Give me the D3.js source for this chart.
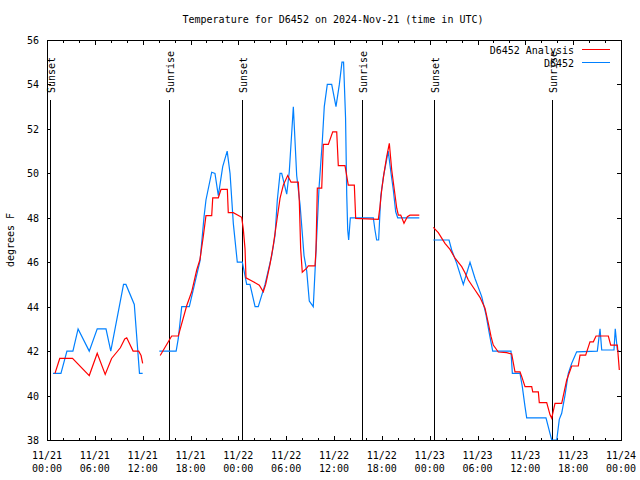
<!DOCTYPE html>
<html>
<head>
<meta charset="utf-8">
<script src="https://cdn.jsdelivr.net/npm/d3@7"></script>
<style>
  html, body { margin: 0; padding: 0; background: #fff; }
  svg { display: block; }
  text { font-family: "DejaVu Sans Mono", "Liberation Mono", monospace; font-size: 10px; fill: #000; }
</style>
</head>
<body>
<svg id="chart" width="640" height="480"></svg>
<script>
// ---------------- data (hours since 2024-11-21 00:00 UTC) ----------------
const chartTitle = "Temperature for D6452 on 2024-Nov-21 (time in UTC)";
const yLabel = "degrees F";
const seriesNames = ["D6452 Analysis", "D6452"];
const seriesColors = ["#ff0000", "#0080ff"];

const yTicks = [38, 40, 42, 44, 46, 48, 50, 52, 54, 56];

const sunHours = [0.41, 15.35, 24.5, 39.5, 48.5, 63.4];
const sunLabels = ["Sunset", "Sunrise", "Sunset", "Sunrise", "Sunset", "Sunrise"];

// observation series (blue); null = gap
const obsHours = [
  0.75, 1.75, 2.5, 3.25, 3.9, 5.3, 6.3, 7.4, 8.0, 9.6, 9.9, 10.95, 11.6, 12.0,
  13.0,
  14.09, 16.2, 16.47, 16.9, 17.85, 19.2, 19.7, 19.94, 20.66, 21.07, 21.49, 22.04, 22.6, 22.96, 23.37, 23.87, 24.5,
  25.05, 25.46, 26.1, 26.5, 27.35, 28.19, 28.6, 28.89, 29.23, 29.44, 30.07, 30.39, 30.9, 31.32, 31.74, 32.24, 32.58,
  32.9, 33.4, 33.74, 34.12, 34.53, 34.78, 35.16, 35.71, 36.25, 36.67, 37.0, 37.2, 37.45, 37.6, 37.72, 37.84, 38.05,
  40.93, 41.14, 41.35, 41.6, 41.86, 42.2, 42.6, 42.8, 43.1, 43.44, 43.74, 43.99, 46.7,
  47.5,
  48.46, 50.43, 50.76, 51.39, 52.22, 53.06, 53.69, 54.53, 55.07, 55.48, 55.91, 58.2, 58.37, 59.33, 59.62, 59.96, 60.17,
  62.59, 63.09, 63.31, 63.94, 64.26, 64.56, 64.98, 65.39, 65.82, 66.44, 69.03, 69.37, 69.58, 71.12, 71.28, 71.54, 71.75
];
const obsTemps = [
  41, 41, 42, 42, 43, 42, 43, 43, 42, 45, 45, 44.1, 41, 41,
  null,
  42, 42, 42.57, 44.0, 44.0, 46.07, 48.05, 48.8, 50.05, 50.0, 49.0, 50.3, 51.0, 50.0, 47.75, 46.0, 46.0,
  45.0, 45.0, 44.0, 44.0, 45.0, 46.3, 47.2, 48.8, 50.0, 50.0, 49.06, 50.07, 53.0, 49.9, 48.6, 46.3, 45.6,
  44.25, 44.0, 46.47, 49.33, 51.42, 53.0, 54.0, 54.0, 53.0, 54.0, 55.0, 55.0, 52.5, 49.0, 47.45, 47.0, 48.0,
  48.0, 47.45, 47.0, 47.0, 48.95, 49.85, 50.6, 51.0, 50.15, 49.25, 48.27, 48.0, 48.0,
  null,
  47.0, 47.0, 46.55, 45.95, 45.0, 46.0, 45.27, 44.45, 43.63, 42.8, 42.0, 42.0, 41.0, 41.0, 40.4, 39.5, 39.0,
  39.0, 38.3, 38.0, 38.0, 38.93, 39.2, 40.02, 41.0, 41.45, 41.97, 42.0, 43.0, 42.05, 42.05, 43.0, 42.05, 42.0
];

// analysis series (red); null = gap
const anaHours = [
  1.0, 1.6, 3.2, 5.3, 6.3, 7.3, 8.1, 9.2, 9.75, 10.0, 10.8, 11.5, 11.8, 12.0,
  13.0,
  14.2, 15.64, 16.47, 17.52, 18.15, 18.78, 19.19, 19.6, 19.94, 20.66, 20.79, 21.49, 21.83, 22.62, 22.74, 23.37,
  24.42, 24.62, 24.84, 24.96, 25.88, 26.63, 27.13, 27.43, 27.97, 28.39, 28.81, 29.23, 29.64, 30.19, 30.61, 31.52,
  31.65, 31.82, 32.02, 32.58, 32.78, 33.62, 33.74, 33.91, 34.46, 34.66, 35.29, 35.84, 36.34, 36.54, 37.38, 37.79,
  38.55, 38.72, 41.56, 41.77, 41.98, 42.27, 42.61, 42.94, 43.24, 43.57, 43.87, 44.07, 44.37, 44.78, 45.2, 45.53, 46.7,
  47.5,
  48.46, 49.08, 49.92, 50.55, 51.18, 52.02, 52.43, 52.85, 53.69, 54.31, 54.94, 55.36, 55.7, 55.98, 56.61, 57.66,
  58.29, 58.7, 59.33, 59.55, 59.96, 60.8, 60.93, 61.63, 61.75, 62.68, 63.1, 63.31, 63.72, 64.56, 65.19, 65.82,
  66.64, 66.86, 67.57, 68.11, 68.53, 68.87, 70.41, 70.71, 71.54, 71.79
];
const anaTemps = [
  41.0, 41.67, 41.67, 40.9, 41.9, 40.95, 41.67, 42.15, 42.55, 42.6, 42.0, 42.0, 41.8, 41.45,
  null,
  41.8, 42.68, 42.68, 44.04, 44.67, 45.65, 46.13, 47.15, 48.1, 48.1, 48.9, 48.9, 49.28, 49.28, 48.23, 48.23,
  48.02, 47.5, 46.6, 45.3, 45.12, 44.97, 44.67, 45.0, 45.9, 46.77, 47.82, 48.87, 49.47, 49.9, 49.6, 49.6,
  48.72, 46.6, 45.55, 45.73, 45.84, 45.84, 46.55, 49.33, 49.33, 51.3, 51.3, 51.87, 51.87, 50.35, 50.35, 49.47,
  49.47, 47.97, 47.93, 48.5, 49.25, 50.0, 50.75, 51.35, 50.15, 49.25, 48.43, 48.12, 48.12, 47.75, 48.05, 48.12, 48.12,
  null,
  47.57, 47.33, 46.85, 46.58, 46.18, 45.8, 45.53, 45.2, 44.75, 44.42, 43.93, 43.25, 42.65, 42.27, 41.96, 41.93,
  41.87, 41.07, 41.07, 40.85, 40.4, 40.4, 40.17, 40.17, 39.68, 39.68, 39.13, 38.98, 39.65, 39.65, 40.7, 41.33,
  41.33, 41.82, 41.82, 42.42, 42.42, 42.68, 42.68, 42.27, 42.27, 41.15
];

// ---------------- drawing ----------------
const svg = d3.select("#chart");
const L = 47, R = 621, T = 40, B = 440;
const t0 = Date.UTC(2024, 10, 21);
const toDate = h => new Date(t0 + h * 3600e3);

const x = d3.scaleUtc().domain([toDate(0), toDate(72)]).range([L, R]);
const y = d3.scaleLinear().domain([38, 56]).range([B, T]);

const crisp = { "shape-rendering": "crispEdges" };

// title
svg.append("text").attr("x", 333).attr("y", 23).attr("text-anchor", "middle").text(chartTitle);

// y label
svg.append("text")
  .attr("transform", "translate(14,240) rotate(-90)")
  .attr("text-anchor", "middle").text(yLabel);

// y ticks & labels
const gy = svg.append("g").attr("shape-rendering", "crispEdges");
yTicks.forEach(v => {
  const py = Math.round(y(v)) + 0.5;
  gy.append("line").attr("x1", L).attr("x2", L + 4).attr("y1", py).attr("y2", py).attr("stroke", "#000");
  gy.append("line").attr("x1", R - 4).attr("x2", R).attr("y1", py).attr("y2", py).attr("stroke", "#000");
  svg.append("text").attr("x", 39).attr("y", y(v) + 4).attr("text-anchor", "end").text(v);
});

// x ticks
const minor = d3.utcHour.every(2).range(toDate(0), toDate(72.01));
const major = d3.utcHour.every(6).range(toDate(0), toDate(72.01));
const gx = svg.append("g").attr("shape-rendering", "crispEdges");
minor.forEach(d => {
  const px = Math.round(x(d)) + 0.5;
  gx.append("line").attr("x1", px).attr("x2", px).attr("y1", B).attr("y2", B - 2.5).attr("stroke", "#000");
  gx.append("line").attr("x1", px).attr("x2", px).attr("y1", T).attr("y2", T + 2.5).attr("stroke", "#000");
});
const fDay = d3.utcFormat("%m/%d"), fTime = d3.utcFormat("%H:%M");
major.forEach(d => {
  const px = Math.round(x(d)) + 0.5;
  gx.append("line").attr("x1", px).attr("x2", px).attr("y1", B).attr("y2", B - 4.5).attr("stroke", "#000");
  gx.append("line").attr("x1", px).attr("x2", px).attr("y1", T).attr("y2", T + 4.5).attr("stroke", "#000");
  svg.append("text").attr("x", x(d)).attr("y", 459).attr("text-anchor", "middle").text(fDay(d));
  svg.append("text").attr("x", x(d)).attr("y", 472).attr("text-anchor", "middle").text(fTime(d));
});

// sunrise / sunset lines
sunHours.forEach((h, i) => {
  const px = Math.round(x(toDate(h))) + 0.5;
  svg.append("line").attr("x1", px).attr("x2", px).attr("y1", 100).attr("y2", B)
    .attr("stroke", "#000").attr("shape-rendering", "crispEdges");
  svg.append("text")
    .attr("transform", `translate(${px + 4.5},93) rotate(-90)`)
    .text(sunLabels[i]);
});

// series
function mk(hours, temps) {
  return hours.map((h, i) => ({ d: toDate(h), v: temps[i] }));
}
const line = d3.line().defined(p => p.v != null).x(p => x(p.d)).y(p => y(p.v));
svg.append("path").datum(mk(obsHours, obsTemps)).attr("d", line)
  .attr("fill", "none").attr("stroke", seriesColors[1]).attr("stroke-width", 1.2);
svg.append("path").datum(mk(anaHours, anaTemps)).attr("d", line)
  .attr("fill", "none").attr("stroke", seriesColors[0]).attr("stroke-width", 1.2);

// frame
svg.append("rect").attr("x", L + 0.5).attr("y", T + 0.5).attr("width", R - L).attr("height", B - T)
  .attr("fill", "none").attr("stroke", "#000").attr("shape-rendering", "crispEdges");

// legend
const legY = [50, 63];
seriesNames.forEach((n, i) => {
  svg.append("text").attr("x", 574).attr("y", legY[i] + 4).attr("text-anchor", "end").text(n);
  svg.append("line").attr("x1", 582).attr("x2", 610).attr("y1", legY[i] - 0.5).attr("y2", legY[i] - 0.5)
    .attr("stroke", seriesColors[i]).attr("stroke-width", 1).attr("shape-rendering", "crispEdges");
});
</script>
</body>
</html>
